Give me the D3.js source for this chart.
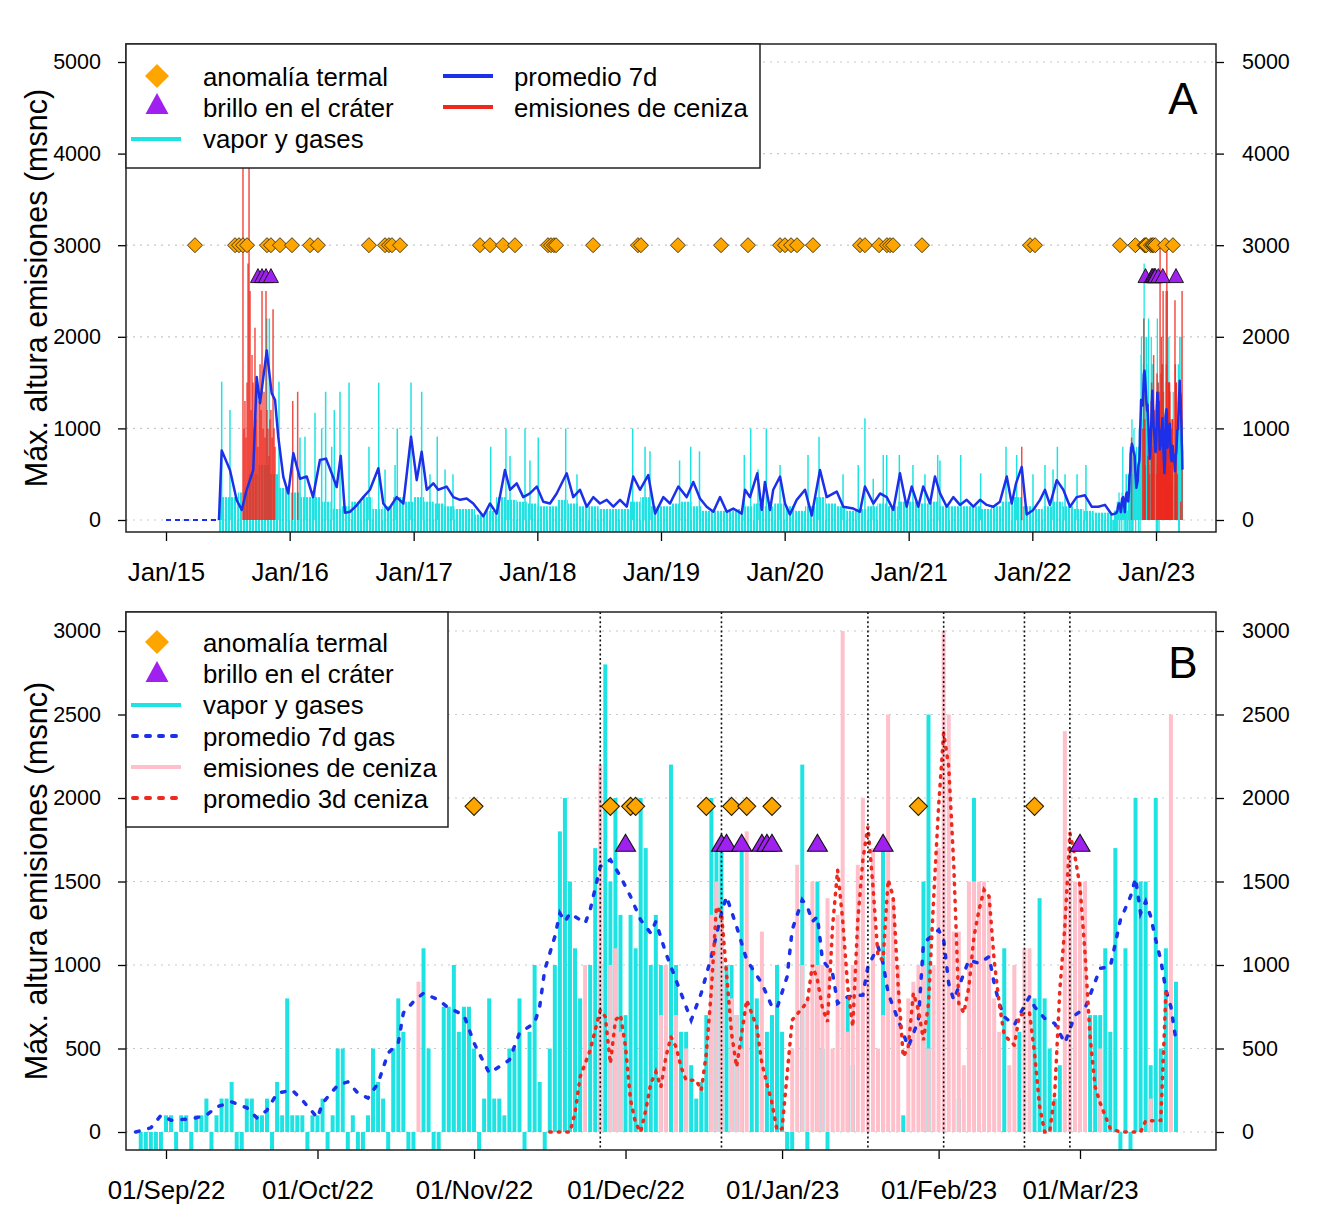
<!DOCTYPE html>
<html><head><meta charset="utf-8">
<script src="https://cdn.jsdelivr.net/npm/d3@7/dist/d3.min.js"></script>
<style>html,body{margin:0;padding:0;background:#fff;}</style>
</head><body>
<svg id="chart" width="1325" height="1215" xmlns="http://www.w3.org/2000/svg"></svg>
<script>
// ================= DATA =================
// ---- Panel A (2015-2023), times as decimal years ----
const noDataSpanA = [2015.0, 2015.428];           // no observations yet (dashed at 0)
const avgTimeA = [
  2015.428,2015.450,2015.517,2015.571,2015.612,2015.652,2015.705,2015.733,2015.760,2015.814,2015.854,2015.881,2015.907,2015.948,2015.988,
  2016.029,2016.083,2016.137,2016.188,2016.244,2016.293,2016.349,2016.379,2016.412,2016.446,2016.487,2016.541,2016.594,2016.648,2016.716,2016.756,2016.796,2016.864,2016.918,2016.980,
  2017.026,2017.066,2017.107,2017.160,2017.200,2017.268,2017.322,2017.376,2017.430,2017.483,2017.564,2017.618,2017.672,2017.739,2017.780,2017.834,2017.887,2017.941,2017.996,
  2018.049,2018.103,2018.157,2018.238,2018.291,2018.345,2018.400,2018.453,2018.507,2018.561,2018.615,2018.669,2018.723,2018.776,2018.830,2018.897,2018.952,
  2019.019,2019.073,2019.140,2019.208,2019.261,2019.315,2019.369,2019.423,2019.477,2019.531,2019.584,2019.652,2019.679,2019.719,2019.778,2019.814,2019.840,2019.881,2019.907,2019.962,
  2020.002,2020.042,2020.097,2020.164,2020.218,2020.285,2020.339,2020.420,2020.473,2020.554,2020.608,2020.648,2020.716,2020.770,2020.824,2020.877,2020.931,2020.985,
  2021.026,2021.079,2021.119,2021.174,2021.214,2021.255,2021.309,2021.362,2021.416,2021.470,2021.524,2021.578,2021.632,2021.685,2021.739,2021.794,2021.834,2021.869,2021.915,2021.955,
  2022.008,2022.063,2022.103,2022.143,2022.198,2022.251,2022.305,2022.359,2022.426,2022.480,2022.534,2022.588,2022.642];
const avgValA = [
  0,760,545,218,110,330,545,1560,1275,1850,1385,1310,910,470,290,
  730,450,475,250,655,670,475,360,700,80,90,160,250,330,565,180,110,250,180,910,
  435,745,330,400,330,365,250,220,235,180,40,180,70,545,330,400,250,290,365,
  200,180,290,510,250,330,145,250,180,220,145,220,145,475,330,490,70,
  250,180,365,250,415,235,145,90,250,90,125,70,330,250,510,110,415,110,330,475,
  180,60,220,330,50,545,250,310,145,125,90,365,180,290,250,110,510,145,
  365,145,365,180,475,290,145,250,165,220,145,220,165,145,200,475,180,400,580,60,
  110,220,330,165,435,330,145,250,270,145,145,165,60];
// typical daily vapour height per month, Jun 2015 .. Aug 2022
const gasMonthStartA = [2015, 5];
const gasMonthA = [
  250,250,300,500,600,500,350,
  300,250,250,200,120,150,200,250,120,150,250,200,
  250,200,180,150,120,120,60,100,250,220,200,180,
  150,150,220,180,150,150,120,120,120,200,250,150,
  150,180,200,150,100,100,100,120,150,180,150,180,
  150,100,150,250,180,150,100,120,150,180,150,200,
  200,180,200,150,150,150,150,120,150,200,250,150,
  120,150,200,150,120,100,80,80];
// tall vapour columns
const gasSpikeTimeA = [2015.450,2015.517,2015.814,2015.835,2015.913,
  2016.083,2016.204,2016.290,2016.360,2016.406,2016.479,2016.640,2016.719,2016.869,2016.980,
  2017.066,2017.192,2017.624,2017.747,2017.901,2018.008,2018.230,2018.771,2018.871,
  2019.240,2019.673,2019.725,2019.851,2020.277,2020.648,2020.824,2020.926,
  2021.236,2021.422,2021.583,2021.788,2022.203,2022.434,
  2016.123,2016.258,2016.339,2016.770,2016.851,2017.133,2017.255,2017.319,2017.780,2017.941,
  2018.321,2018.911,2019.150,2019.311,2019.784,2019.962,2020.188,2020.471,2020.594,2020.715,
  2020.796,2021.036,2021.133,2021.254,2021.874,2022.006,2022.103,2022.168,2022.265,2022.362];
const gasSpikeValA = [1510,1200,2200,2200,1510,
  900,1170,1400,1200,1400,1500,800,1500,1000,1500,
  1400,910,800,1000,1000,900,1000,1000,800,
  800,710,1000,1000,910,1110,710,710,
  710,710,510,800,800,600,
  910,1000,800,550,600,500,550,500,700,650,
  500,750,650,750,550,600,710,500,600,450,
  710,600,500,650,710,500,600,550,500,500];
// ash columns 2015-2021
const ashTimeA = [2015.622,2015.671,2015.630,2015.638,2015.646,2015.655,2015.663,2015.679,2015.687,2015.695,
  2015.703,2015.711,2015.719,2015.727,2015.735,2015.743,2015.752,2015.760,2015.768,2015.776,
  2015.784,2015.792,2015.800,2015.808,2015.816,2015.824,2015.832,2015.840,2015.848,2015.857,
  2015.865,2015.873,2015.881,2016.024,2016.064,2021.915];
const ashValA = [4500,4500,1000,1300,900,1500,2800,2500,1200,1800,
  1500,1000,2100,1100,1500,800,1300,1700,1200,2500,
  1000,1400,900,2500,1200,1000,700,1100,1200,900,
  2300,1000,800,1300,1400,800];
const thermalA = [2015.234,2015.558,2015.590,2015.622,2015.655,2015.816,2015.848,2015.921,2016.018,2016.164,
  2016.228,2016.640,2016.770,2016.802,2016.826,2016.891,2017.537,2017.618,2017.723,2017.820,
  2018.087,2018.111,2018.135,2018.152,2018.451,2018.814,2018.838,2019.137,2019.485,2019.703,
  2019.962,2020.002,2020.051,2020.099,2020.228,2020.608,2020.648,2020.762,2020.826,2020.851,
  2020.875,2021.109,2021.982,2022.022,2022.709];
const glowA = [2015.743,2015.776,2015.808,2015.848];
const thermalLevelA = 3000, glowLevelA = 2650;

// ---- Panel B (daily, day 0 = 01/Sep/2022) ----
const firstDayB = -6;
const gasB = [
  0,-100,-100,-100,-100,-100,100,100,-100,100,
  100,-100,100,100,200,-100,100,200,200,300,
  -100,-100,200,200,100,100,200,-100,300,100,
  800,100,100,100,-100,100,100,200,-100,100,
  500,500,-100,100,-100,-100,100,500,300,200,
  -100,500,800,600,-100,-100,0,1100,500,-100,
  -100,750,750,1000,600,750,750,500,-100,200,
  800,200,200,100,500,500,800,-100,600,1000,
  300,-100,500,1000,1800,2000,1500,1100,800,0,
  1000,1700,1000,2800,1500,2000,1300,700,1300,1100,
  2000,1700,1000,1300,1000,400,2200,1000,600,600,
  400,200,300,700,2000,1700,1700,1000,1000,700,
  1700,0,1000,800,0,600,700,1000,600,-100,
  -100,0,2200,-100,0,1500,500,-100,0,0,
  0,800,400,0,0,0,0,0,1700,0,
  0,0,100,0,0,0,1500,2500,0,0,
  0,0,0,200,0,0,2000,0,0,0,
  0,0,1100,0,0,600,0,0,800,1400,
  800,500,200,400,0,0,0,0,0,700,
  700,700,1100,600,1700,-100,1100,-100,2000,1500,
  1500,400,2000,500,1100,0,900];
const ashB = [
  0,0,0,0,0,0,0,0,0,0,
  0,0,0,0,0,0,0,0,0,0,
  0,0,0,0,0,0,0,0,0,0,
  0,0,0,0,0,0,0,0,0,0,
  0,0,0,0,0,0,0,0,0,0,
  0,0,0,0,0,0,900,0,0,0,
  0,0,0,0,0,0,0,0,0,0,
  0,0,0,0,0,0,0,0,0,0,
  0,0,0,0,0,0,0,0,0,1000,
  0,0,2200,0,1000,1100,600,0,0,0,
  0,0,0,0,700,1000,0,700,0,500,
  0,0,0,0,1300,1500,1300,0,800,700,
  500,1800,0,0,1200,0,0,0,0,0,
  500,1600,1000,800,1500,1000,1000,1400,500,1300,
  3000,600,1000,1600,2000,1000,1700,500,700,2500,
  1400,1000,0,800,900,1000,1000,500,1000,1700,
  3000,2500,1200,1200,400,1500,1500,1500,1500,1400,
  800,600,0,400,1000,0,1100,1100,0,0,
  0,0,0,0,2400,1700,1500,1500,1500,0,
  0,500,0,0,0,0,0,0,0,0,
  0,200,0,0,0,2500,0];
const avgDayB = [-6,-3,-1,1,5,8,10,13,16,18,20,22,25,27,30,31,34,36,38,40,42,44,46,47,49,51,54,56,59,61,
  64,66,68,70,73,74,75,77,78,79,80,83,84,86,88,90,92,94,96,97,99,101,103,104,106,108,110,111,113,115,
  118,120,121,123,124,126,127,128,129,130,131,132,133,135,138,139,141,142,143,145,147,149,150,153,154,155,156,158,159,161,
  163,164,165,166,168,169,171,172,174,176,178,180,182,183,185,187,189,191,192,193,194,195,196,197,198,199,200];
const avgGasB = [0,25,100,70,78,100,150,180,145,85,130,233,250,190,85,173,280,300,233,203,293,473,533,713,780,832,790,742,700,533,
  353,391,431,593,653,750,970,1170,1310,1260,1310,1250,1330,1590,1630,1530,1410,1270,1190,1260,1070,910,750,670,832,1050,1310,1410,1230,1030,
  890,750,742,930,1210,1390,1350,1260,1290,1030,990,950,770,810,820,990,1110,1010,832,670,510,670,1130,1210,1150,890,790,950,1030,1010,
  1050,890,770,690,640,700,810,750,680,650,533,700,742,820,980,990,1270,1410,1520,1310,1380,1290,1150,1030,850,750,550];
const ashAvgDayB = [76,80,81,82,84,86,87,88,89,90,91,92,93,94,95,96,97,98,99,100,101,102,103,105,106,107,108,109,110,111,
  112,113,114,115,117,118,120,121,122,124,126,127,128,129,130,131,132,133,134,135,136,137,138,139,140,141,142,143,144,145,
  146,147,148,149,150,151,152,153,154,155,156,157,158,159,160,161,162,163,164,165,166,168,169,171,172,173,174,175,176,177,
  178,179,180,181,182,183,184,185,187,189,191,193,194,195,196,197,198,199];
const ashAvgB = [0,0,113,330,490,730,690,410,670,700,510,190,53,0,130,290,360,270,450,570,510,390,310,310,250,470,850,1350,1310,950,
  590,390,590,790,630,410,173,10,20,670,742,780,1000,910,742,660,1230,1570,1270,870,630,1270,1630,1830,1470,1050,1030,1510,1410,870,
  450,510,832,730,550,770,1390,1950,2390,2190,1600,770,713,870,1170,1330,1450,1410,1030,770,580,520,700,713,473,153,0,0,233,850,
  1230,1790,1650,1470,1070,570,270,173,20,0,0,0,67,67,67,70,830,840];
const thermalDaysB = [61,88,92,93,107,112,115,120,149,172];
const glowDaysB = [91,110,111,114,118,119,120,129,142,181];
const eventDaysB = [86,110,139,154,170,179];
const thermalLevelB = 1950, glowLevelB = 1720;

// ticks
const yTicksA = [0,1000,2000,3000,4000,5000];
const yTicksB = [0,500,1000,1500,2000,2500,3000];
const xTickYearsA = [2015,2016,2017,2018,2019,2020,2021,2022,2023];
const xTickMonthsB = ["2022-09-01","2022-10-01","2022-11-01","2022-12-01","2023-01-01","2023-02-01","2023-03-01"];

// ================= DRAW =================
const FONT = "'Liberation Sans', Arial, Helvetica, sans-serif";
const COL = {cyan:"#1fe3e3", blue:"#1b30e8", red:"#ee2a1e", pink:"#ffc0cb", orange:"#ffa500", purple:"#a020f0", grid:"#c8c8c8"};
const MS = 864e5;
const day0B = Date.UTC(2022,8,1);
const dayToDate = d => new Date(day0B + d*MS);
const yearToDate = t => new Date(Date.UTC(2015,0,1) + (t-2015)*365.25*MS);
const parseDay = d3.utcParse("%Y-%m-%d");

const svg = d3.select("#chart").attr("font-family", FONT);
svg.append("rect").attr("width",1325).attr("height",1215).attr("fill","#fff");
const defs = svg.append("defs");
const pat = defs.append("pattern").attr("id","comb").attr("width",3).attr("height",8).attr("patternUnits","userSpaceOnUse");
pat.append("rect").attr("width",2.2).attr("height",8).attr("fill",COL.cyan);

const PA = {l:126,r:1216,t:44,b:532};
const PB = {l:126,r:1216,t:612,b:1150};
[["clipA",PA],["clipB",PB]].forEach(([id,P])=>{
  defs.append("clipPath").attr("id",id).append("rect").attr("x",P.l).attr("y",P.t).attr("width",P.r-P.l).attr("height",P.b-P.t);
});

const xA = d3.scaleUtc().domain([yearToDate(2015), yearToDate(2023)]).range([166,1156]);
const yA = d3.scaleLinear().domain([0,5000]).range([520,62]);
const xB = d3.scaleUtc().domain([dayToDate(0), dayToDate(181)]).range([166,1080]);
const yB = d3.scaleLinear().domain([0,3000]).range([1132,631]);

const diamond = s => `M0,${-s}L${s},0L0,${s}L${-s},0Z`;
const triangle = (w,h) => `M0,${-h*0.62}L${w/2},${h*0.38}L${-w/2},${h*0.38}Z`;

function grid(g, P, y, ticks){
  g.selectAll(null).data(ticks).join("line")
    .attr("x1",P.l).attr("x2",P.r).attr("y1",d=>y(d)).attr("y2",d=>y(d))
    .attr("stroke",COL.grid).attr("stroke-width",1.2).attr("stroke-dasharray","2 5");
}
function axes(P, x, y, xticks, fmt, yticks){
  const bx = svg.append("g").attr("transform",`translate(0,${P.b})`)
    .call(d3.axisBottom(x).tickValues(xticks).tickFormat(fmt).tickSize(9).tickPadding(22));
  const by = svg.append("g").attr("transform",`translate(${P.l},0)`)
    .call(d3.axisLeft(y).tickValues(yticks).tickFormat(d3.format("d")).tickSize(8).tickPadding(17));
  const br = svg.append("g").attr("transform",`translate(${P.r},0)`)
    .call(d3.axisRight(y).tickValues(yticks).tickFormat(d3.format("d")).tickSize(8).tickPadding(18));
  [bx,by,br].forEach((g,i)=>{
    g.attr("font-family",FONT).attr("font-size", i===0?25.8:21.5);
    g.select(".domain").remove();
    g.selectAll(".tick line").attr("stroke","#000").attr("stroke-width",1.3);
    g.selectAll(".tick text").attr("fill","#000");
  });
  svg.append("rect").attr("x",P.l).attr("y",P.t).attr("width",P.r-P.l).attr("height",P.b-P.t)
    .attr("fill","none").attr("stroke","#222").attr("stroke-width",1.5);
  svg.append("text").attr("transform",`translate(47,${(P.t+P.b)/2}) rotate(-90)`)
    .attr("text-anchor","middle").attr("font-size",30.5).attr("fill","#000").text("Máx. altura emisiones (msnc)");
}

// ---------- PANEL A ----------
const gA = svg.append("g").attr("clip-path","url(#clipA)");
grid(gA, PA, yA, yTicksA);
const dataStartA = yearToDate(noDataSpanA[1]);
const startB = dayToDate(firstDayB);
const monthRects = gasMonthA.map((v,i)=>{
  let s = new Date(Date.UTC(gasMonthStartA[0], gasMonthStartA[1]+i, 1));
  let e = new Date(Date.UTC(gasMonthStartA[0], gasMonthStartA[1]+i+1, 1));
  if (s < dataStartA) s = dataStartA;
  if (e > startB) e = startB;
  return {s,e,v};
});
gA.selectAll(null).data(monthRects).join("rect")
  .attr("x",d=>xA(d.s)).attr("width",d=>xA(d.e)-xA(d.s))
  .attr("y",d=>yA(d.v)).attr("height",d=>yA(0)-yA(d.v)).attr("fill","url(#comb)");
gA.append("rect").attr("x",xA(dataStartA)).attr("width",xA(startB)-xA(dataStartA))
  .attr("y",yA(0)).attr("height",PA.b-yA(0)).attr("fill","url(#comb)");
gA.selectAll(null).data(gasSpikeTimeA.map((t,i)=>({t:yearToDate(t),v:gasSpikeValA[i]}))).join("line")
  .attr("x1",d=>xA(d.t)).attr("x2",d=>xA(d.t)).attr("y1",yA(0)).attr("y2",d=>yA(d.v))
  .attr("stroke",COL.cyan).attr("stroke-width",1.5);
const dailyB = gasB.map((g,i)=>({d:firstDayB+i, gas:g, ash:ashB[i]}));
gA.selectAll(null).data(dailyB.filter(d=>d.gas!==0)).join("line")
  .attr("x1",d=>xA(dayToDate(d.d))).attr("x2",d=>xA(dayToDate(d.d)))
  .attr("y1",yA(0)).attr("y2",d=>d.gas>0?yA(d.gas):PA.b+2)
  .attr("stroke",COL.cyan).attr("stroke-width",1.3);
const ashPtsA = ashTimeA.map((t,i)=>({t:yearToDate(t),v:ashValA[i]}))
  .concat(dailyB.filter(d=>d.ash>0).map(d=>({t:dayToDate(d.d),v:d.ash})));
gA.selectAll(null).data(ashPtsA).join("line")
  .attr("x1",d=>xA(d.t)).attr("x2",d=>xA(d.t)).attr("y1",yA(0)).attr("y2",d=>yA(d.v))
  .attr("stroke",COL.red).attr("stroke-opacity",0.82).attr("stroke-width",1.5);
gA.append("line").attr("x1",xA(yearToDate(noDataSpanA[0]))).attr("x2",xA(dataStartA))
  .attr("y1",yA(0)).attr("y2",yA(0)).attr("stroke",COL.blue).attr("stroke-width",2).attr("stroke-dasharray","5 4");
const avgPtsA = avgTimeA.map((t,i)=>({t:yearToDate(t),v:avgValA[i]}))
  .concat(avgDayB.map((d,i)=>({d,v:avgGasB[i]})).filter(p=>p.d>=0).map(p=>({t:dayToDate(p.d),v:p.v})));
gA.append("path").datum(avgPtsA).attr("fill","none").attr("stroke",COL.blue).attr("stroke-width",2.5)
  .attr("stroke-linejoin","round").attr("d",d3.line().x(d=>xA(d.t)).y(d=>yA(d.v)));
const thermalDatesA = thermalA.map(yearToDate).concat(thermalDaysB.map(dayToDate));
const glowDatesA = glowA.map(yearToDate).concat(glowDaysB.map(dayToDate));
gA.selectAll(null).data(thermalDatesA).join("path")
  .attr("transform",d=>`translate(${xA(d)},${yA(thermalLevelA)})`).attr("d",diamond(7.5))
  .attr("fill",COL.orange).attr("stroke","#3a2a00").attr("stroke-width",0.9);
gA.selectAll(null).data(glowDatesA).join("path")
  .attr("transform",d=>`translate(${xA(d)},${yA(glowLevelA)})`).attr("d",triangle(15,14))
  .attr("fill",COL.purple).attr("stroke","#111").attr("stroke-width",0.9);

axes(PA, xA, yA, xTickYearsA.map(y=>new Date(Date.UTC(y,0,1))), d3.utcFormat("%b/%y"), yTicksA);
svg.append("text").attr("x",1183).attr("y",114).attr("text-anchor","middle").attr("font-size",44).text("A");

const lgA = svg.append("g");
lgA.append("rect").attr("x",PA.l).attr("y",PA.t).attr("width",634).attr("height",124)
  .attr("fill","#fff").attr("stroke","#222").attr("stroke-width",1.5);
lgA.append("path").attr("transform","translate(157,76)").attr("d",diamond(12)).attr("fill",COL.orange);
lgA.append("path").attr("transform","translate(157,106)").attr("d",triangle(23,21)).attr("fill",COL.purple);
lgA.append("line").attr("x1",131).attr("x2",181).attr("y1",139).attr("y2",139).attr("stroke",COL.cyan).attr("stroke-width",4);
lgA.append("line").attr("x1",443).attr("x2",493).attr("y1",76).attr("y2",76).attr("stroke",COL.blue).attr("stroke-width",4);
lgA.append("line").attr("x1",443).attr("x2",493).attr("y1",107).attr("y2",107).attr("stroke",COL.red).attr("stroke-width",4);
[["anomalía termal",203,77],["brillo en el cráter",203,108],["vapor y gases",203,139],["promedio 7d",514,77],["emisiones de ceniza",514,108]]
  .forEach(([t,x,y])=>lgA.append("text").attr("x",x).attr("y",y).attr("dy","0.35em").attr("font-size",25.8).text(t));

// ---------- PANEL B ----------
const gB = svg.append("g").attr("clip-path","url(#clipB)");
grid(gB, PB, yB, yTicksB);
const BW = 4;
gB.selectAll(null).data(dailyB.filter(d=>d.gas!==0)).join("rect")
  .attr("x",d=>xB(dayToDate(d.d))-BW/2).attr("width",BW)
  .attr("y",d=>d.gas>0?yB(d.gas):yB(0)).attr("height",d=>d.gas>0?yB(0)-yB(d.gas):PB.b-yB(0)+2)
  .attr("fill",COL.cyan);
gB.selectAll(null).data(dailyB.filter(d=>d.ash>0)).join("rect")
  .attr("x",d=>xB(dayToDate(d.d))-BW/2).attr("width",BW)
  .attr("y",d=>yB(d.ash)).attr("height",d=>yB(0)-yB(d.ash)).attr("fill",COL.pink);
gB.append("path").datum(avgDayB.map((d,i)=>({d,v:avgGasB[i]}))).attr("fill","none")
  .attr("stroke",COL.blue).attr("stroke-width",3.5).attr("stroke-dasharray","3.5 10").attr("stroke-linecap","round")
  .attr("d",d3.line().x(p=>xB(dayToDate(p.d))).y(p=>yB(p.v)));
gB.append("path").datum(ashAvgDayB.map((d,i)=>({d,v:ashAvgB[i]}))).attr("fill","none")
  .attr("stroke",COL.red).attr("stroke-width",3.5).attr("stroke-dasharray","1.5 7").attr("stroke-linecap","round")
  .attr("d",d3.line().x(p=>xB(dayToDate(p.d))).y(p=>yB(p.v)));
gB.selectAll(null).data(eventDaysB).join("line")
  .attr("x1",d=>xB(dayToDate(d))).attr("x2",d=>xB(dayToDate(d))).attr("y1",PB.t).attr("y2",PB.b)
  .attr("stroke","#111").attr("stroke-width",1.6).attr("stroke-dasharray","2 2.6");
gB.selectAll(null).data(thermalDaysB).join("path")
  .attr("transform",d=>`translate(${xB(dayToDate(d))},${yB(thermalLevelB)})`).attr("d",diamond(9))
  .attr("fill",COL.orange).attr("stroke","#2a1e00").attr("stroke-width",1.1);
gB.selectAll(null).data(glowDaysB).join("path")
  .attr("transform",d=>`translate(${xB(dayToDate(d))},${yB(glowLevelB)})`).attr("d",triangle(20,17))
  .attr("fill",COL.purple).attr("stroke","#111").attr("stroke-width",1.1);

axes(PB, xB, yB, xTickMonthsB.map(parseDay), d3.utcFormat("%d/%b/%y"), yTicksB);
svg.append("text").attr("x",1183).attr("y",678).attr("text-anchor","middle").attr("font-size",44).text("B");

const lgB = svg.append("g");
lgB.append("rect").attr("x",PB.l).attr("y",PB.t).attr("width",322).attr("height",215)
  .attr("fill","#fff").attr("stroke","#222").attr("stroke-width",1.5);
lgB.append("path").attr("transform","translate(157,642)").attr("d",diamond(12)).attr("fill",COL.orange);
lgB.append("path").attr("transform","translate(157,674)").attr("d",triangle(23,21)).attr("fill",COL.purple);
lgB.append("line").attr("x1",131).attr("x2",181).attr("y1",705).attr("y2",705).attr("stroke",COL.cyan).attr("stroke-width",4);
lgB.append("line").attr("x1",133).attr("x2",181).attr("y1",736).attr("y2",736).attr("stroke",COL.blue).attr("stroke-width",4)
  .attr("stroke-dasharray","4 9").attr("stroke-linecap","round");
lgB.append("line").attr("x1",131).attr("x2",181).attr("y1",767).attr("y2",767).attr("stroke",COL.pink).attr("stroke-width",4);
lgB.append("line").attr("x1",133).attr("x2",181).attr("y1",798).attr("y2",798).attr("stroke",COL.red).attr("stroke-width",4)
  .attr("stroke-dasharray","4 9").attr("stroke-linecap","round");
["anomalía termal","brillo en el cráter","vapor y gases","promedio 7d gas","emisiones de ceniza","promedio 3d ceniza"]
  .forEach((t,i)=>lgB.append("text").attr("x",203).attr("y",643+i*31.2).attr("dy","0.35em").attr("font-size",25.8).text(t));
</script>
</body></html>
